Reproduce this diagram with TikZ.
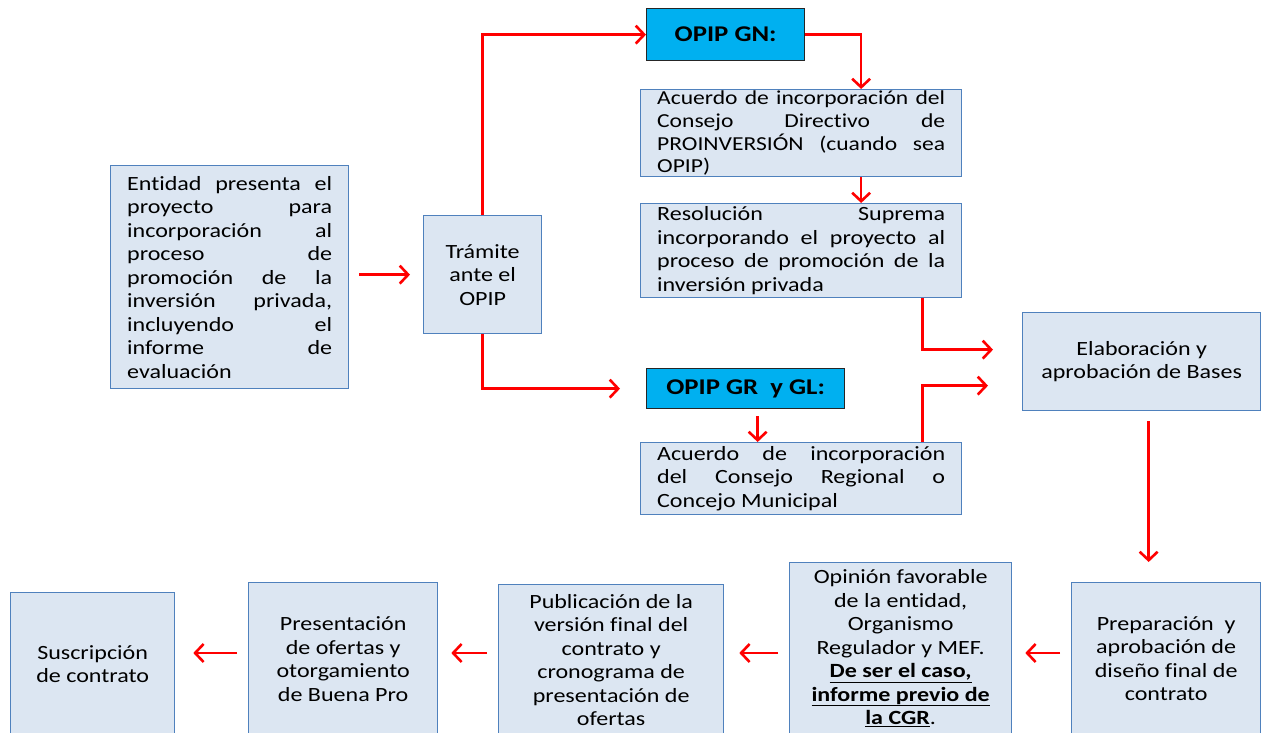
\documentclass[tikz,border=0pt]{standalone}
\usepackage{fontspec}
\setmainfont{Carlito}[FakeStretch=1.19, Ligatures={NoCommon}]
\usetikzlibrary{arrows.meta}
\definecolor{boxfill}{HTML}{DCE6F2}
\definecolor{boxline}{HTML}{4F81BD}
\definecolor{opipfill}{HTML}{00B0F0}
\definecolor{arrred}{HTML}{FF0000}
\begin{document}
\begin{tikzpicture}[x=1pt,y=-1pt,
  box/.style={draw=boxline, fill=boxfill, line width=1.3pt, anchor=north west, inner ysep=0pt,
    font=\fontsize{20.2}{23.5}\selectfont,
    execute at begin node={\tolerance=10000\hbadness=10000}},
  jbox/.style={box, align=justify, inner xsep=16.5pt},
  cbox/.style={box, align=center, inner xsep=4pt},
  opip/.style={draw=black!85, fill=opipfill, line width=1.3pt, anchor=north west,
    font=\fontsize{22.5}{25}\selectfont\bfseries, inner sep=0pt},
  arr/.style={draw=arrred, line width=2.6pt, -{Straight Barb[length=8.5pt,width=18pt]}},
]
\clip (0,0) rectangle (1261,733);
\fill[white] (0,0) rectangle (1261,733);

% nodes
\node[jbox, text width=205pt, minimum height=223pt] (ent) at (110,165)
  {Entidad presenta el\linebreak proyecto para\linebreak incorporación al\linebreak proceso de\linebreak promoción de la\linebreak inversión privada,\linebreak incluyendo el\linebreak informe de\linebreak evaluación};
\node[cbox, minimum width=118pt, minimum height=118pt] (tram) at (423,215) {Trámite\\ ante el\\ OPIP};
\node[opip, minimum width=158pt, minimum height=52pt] (gn) at (646,8) {OPIP GN:};
\node[jbox, text width=288pt, minimum height=87pt, font=\fontsize{19.8}{22.7}\selectfont] (ac1) at (640,89)
  {Acuerdo de incorporación del\linebreak Consejo Directivo de\linebreak PROINVERSIÓN (cuando sea\linebreak OPIP)};
\node[jbox, text width=288pt, minimum height=94pt] (res) at (640,203)
  {Resolución Suprema\linebreak incorporando el proyecto al\linebreak proceso de promoción de la\linebreak inversión privada};
\node[opip, minimum width=198pt, minimum height=40pt] (gr) at (646,368) {OPIP GR\ \ y GL:};
\node[jbox, text width=288pt, minimum height=72pt] (ac2) at (640,442)
  {Acuerdo de incorporación\linebreak del Consejo Regional o\linebreak Concejo Municipal};
\node[cbox, minimum width=238pt, minimum height=98pt] (elab) at (1022,312) {Elaboración y\\ aprobación de Bases};
\node[cbox, minimum width=189pt, minimum height=152pt] (prep) at (1071,582)
  {Preparación\ \ y\\ aprobación de\\ diseño final de\\ contrato};
\node[cbox, minimum width=222pt, minimum height=171pt] (op) at (789,562)
  {Opinión favorable\\ de la entidad,\\ Organismo\\ Regulador y MEF.\\ \textbf{\underline{De ser el caso,}}\\ \textbf{\underline{informe previo de}}\\ \textbf{\underline{la CGR}}.};
\node[cbox, minimum width=225pt, minimum height=151pt] (pub) at (498,584)
  {Publicación de la\\ versión final del\\ contrato y\\ cronograma de\\ presentación de\\ ofertas};
\node[cbox, minimum width=189pt, minimum height=153pt] (pres) at (248,582)
  {Presentación\\ de ofertas y\\ otorgamiento\\ de Buena Pro};
\node[cbox, minimum width=164pt, minimum height=143pt] (sus) at (10,592)
  {Suscripción\\ de contrato};

% connectors
\coordinate (rowy) at (0,653);
\draw[arr, shorten <=10pt, shorten >=13pt] (tram.west -| ent.east) -- (tram.west);
\draw[arr] (tram.north) |- (gn.west);
\draw[arr, shorten >=26pt] (tram.south) |- (gr.west);
\draw[arr] (gn.east) -| ([xshift=60pt]ac1.north);
\draw[arr] ([xshift=60pt]ac1.south) -- ([xshift=60pt]res.north);
\draw[arr, shorten >=29pt] ([xshift=121.5pt]res.south) |- ([yshift=12pt]elab.west);
\draw[arr, shorten >=34pt] ([xshift=121.5pt]ac2.north) |- ([yshift=-24pt]elab.west);
\draw[arr, shorten <=7pt] ([xshift=12pt]gr.south) -- ([xshift=12pt]gr.south |- ac2.north);
\draw[arr, shorten <=10pt, shorten >=20pt] ([xshift=7pt]elab.south) -- ([xshift=7pt]elab.south |- prep.north);
\draw[arr, shorten <=11pt, shorten >=13pt] (prep.west |- rowy) -- (op.east |- rowy);
\draw[arr, shorten <=11pt, shorten >=15pt] (op.west |- rowy) -- (pub.east |- rowy);
\draw[arr, shorten <=11pt, shorten >=13pt] (pub.west |- rowy) -- (pres.east |- rowy);
\draw[arr, shorten <=11pt, shorten >=18pt] (pres.west |- rowy) -- (sus.east |- rowy);
\end{tikzpicture}
\end{document}
